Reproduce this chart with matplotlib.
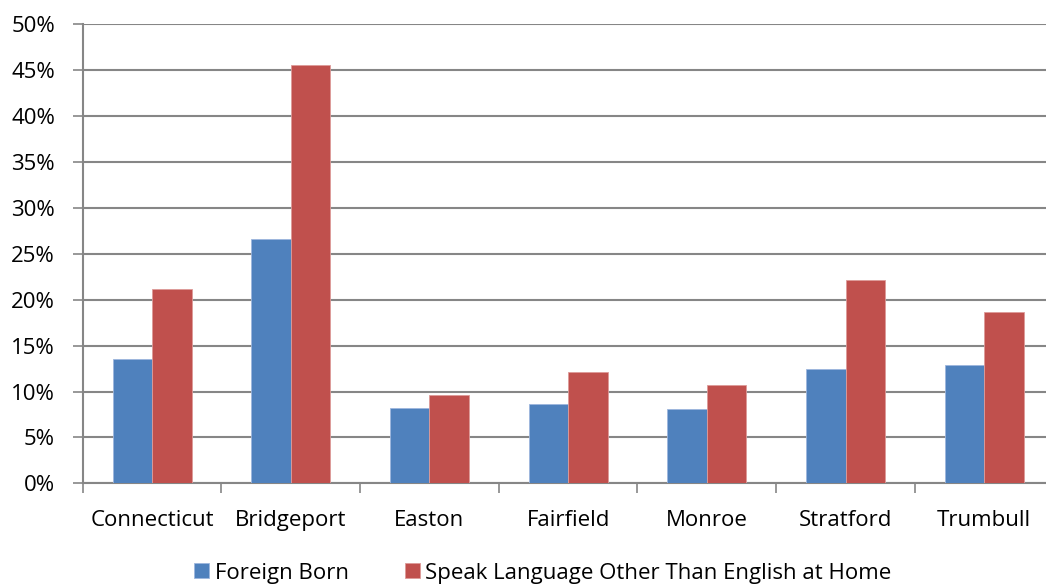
import matplotlib
matplotlib.use("Agg")
import matplotlib.pyplot as plt
import numpy as np
from matplotlib.ticker import FuncFormatter, MultipleLocator

categories = ["Connecticut", "Bridgeport", "Easton", "Fairfield", "Monroe", "Stratford", "Trumbull"]
foreign_born = [13.5, 26.6, 8.2, 8.6, 8.1, 12.5, 12.9]
other_language = [21.2, 45.6, 9.6, 12.1, 10.7, 22.2, 18.7]
series_names = ["Foreign Born", "Speak Language Other Than English at Home"]

plt.rcParams['font.family'] = ['Open Sans', 'DejaVu Sans']

W, H = 1046, 586
fig = plt.figure(figsize=(W / 100, H / 100), dpi=100)
left, right = 82.7, 82.7 + 7 * 138.7
top, bottom = 24.3, 483.3
ax = fig.add_axes([left / W, 1 - bottom / H, (right - left) / W, (bottom - top) / H])

grid_c = "#868686"
blue = "#4F81BD"
red = "#C0504D"
fs = 16
x = np.arange(len(categories))
bw = 0.285
ax.bar(x - bw / 2, foreign_born, bw, color=blue, edgecolor="#9DB6DD", linewidth=0.6, label=series_names[0], zorder=3)
ax.bar(x + bw / 2, other_language, bw, color=red, edgecolor="#DD9B99", linewidth=0.6, label=series_names[1], zorder=3)

ax.set_xlim(-0.5, len(categories) - 0.5)
ax.set_ylim(0, 50)
ax.yaxis.set_major_locator(MultipleLocator(5))
ax.yaxis.set_major_formatter(FuncFormatter(lambda v, p: f"{v:.0f}%"))
ax.grid(axis="y", color=grid_c, linewidth=1.5, zorder=0)

ax.set_xticks(np.arange(-0.5, len(categories) - 0.4, 1.0))
ax.set_xticklabels([])
ax.set_xticks(x, minor=True)
ax.set_xticklabels(categories, minor=True, fontsize=fs)
ax.tick_params(axis="x", which="major", length=7, width=1.2, color=grid_c, direction="out")
ax.tick_params(axis="x", which="minor", length=0, pad=19)
ax.tick_params(axis="y", length=7, width=1.2, color=grid_c, labelsize=fs, pad=13)

for s in ["top", "right"]:
    ax.spines[s].set_visible(False)
for s in ["left", "bottom"]:
    ax.spines[s].set_color(grid_c)
    ax.spines[s].set_linewidth(1.5)

leg = fig.legend(loc="center", bbox_to_anchor=(0.519, 1 - 573 / H), ncol=2, frameon=False,
                 fontsize=fs, handlelength=0.68, handleheight=0.68, handletextpad=0.25,
                 columnspacing=2.5)

fig.savefig("out.png", dpi=100)
